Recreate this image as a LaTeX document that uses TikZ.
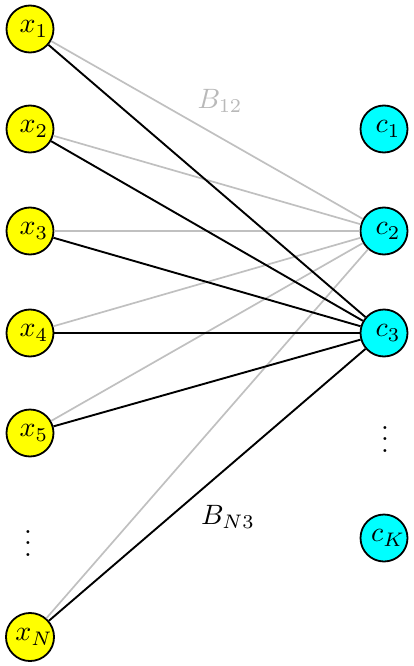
\documentclass[tikz,border=0pt]{standalone}
\usepackage{graphicx}
\definecolor{edgegray}{RGB}{192,192,192}
\definecolor{labgray}{RGB}{185,185,185}
\definecolor{nodecyan}{RGB}{0,255,255}
\definecolor{nodeyellow}{RGB}{255,255,0}
\tikzset{
  xnode/.style={circle, draw=black, line width=1.8pt, fill=nodeyellow, minimum size=47pt, inner sep=0pt},
  cnode/.style={circle, draw=black, line width=1.8pt, fill=nodecyan, minimum size=47pt, inner sep=0pt},
  grayedge/.style={draw=edgegray, line width=1.7pt},
  blackedge/.style={draw=black, line width=1.9pt},
  vdotsnode/.style={inner sep=0pt}
}
\newcommand{\mybigmath}[1]{\scalebox{2.8}{$#1$}}
\newcommand{\mybigdots}{\scalebox{2.8}{\boldmath$\vdots$}}
\newcommand{\shiftlab}[1]{\hspace*{8pt}\mybigmath{#1}}
\begin{document}
\begin{tikzpicture}[x=1pt,y=-1pt]
\useasboundingbox (0,0) rectangle (414,666);
\node[xnode] (x1) at (30,29) {\shiftlab{x_1}};
\node[xnode] (x2) at (30,129) {\shiftlab{x_2}};
\node[xnode] (x3) at (30,231) {\shiftlab{x_3}};
\node[xnode] (x4) at (30,333) {\shiftlab{x_4}};
\node[xnode] (x5) at (30,433) {\shiftlab{x_5}};
\node[vdotsnode] (ld) at (28,535) {\mybigdots};
\node[xnode] (xN) at (30,637) {\shiftlab{x_N}};
\node[cnode] (c1) at (384,129) {\shiftlab{c_1}};
\node[cnode] (c2) at (384,231) {\shiftlab{c_2}};
\node[cnode] (c3) at (384,333) {\shiftlab{c_3}};
\node[vdotsnode] (rd) at (385,431) {\mybigdots};
\node[cnode] (cK) at (384,538) {\shiftlab{c_K}};
\foreach \s in {x1,x2,x3,x4,x5,xN} {
  \draw[grayedge] (\s) -- (c2);
}
\foreach \s in {x1,x2,x3,x4,x5,xN} {
  \draw[blackedge] (\s) -- (c3);
}
\node[text=labgray] (b12) at (220,101) {\mybigmath{B_{12}}};
\node (bn3) at (228,517) {\mybigmath{B_{N3}}};
\end{tikzpicture}
\end{document}
